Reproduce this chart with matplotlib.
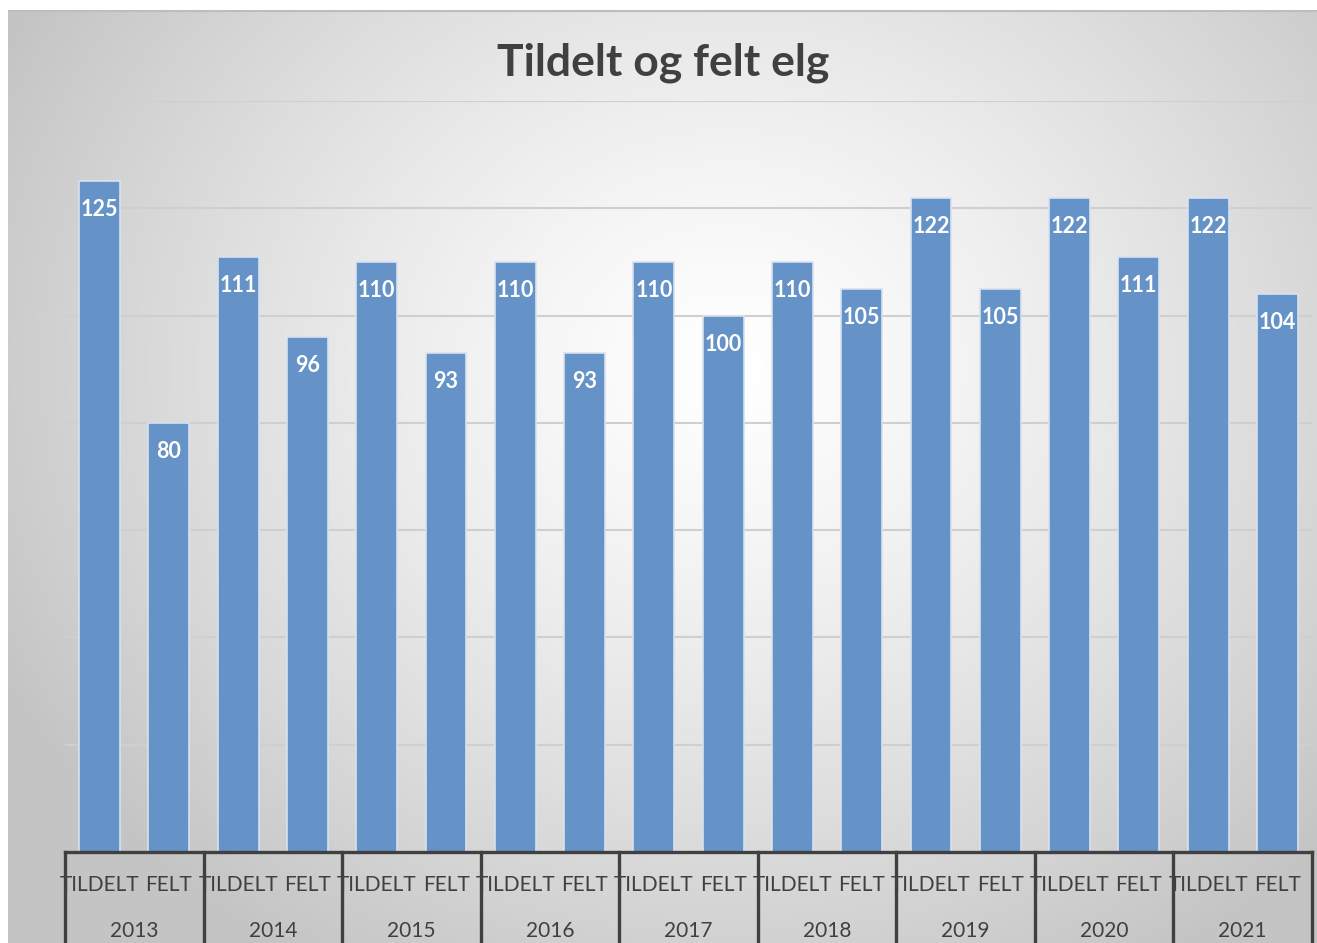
import numpy as np
import matplotlib
matplotlib.use("Agg")
import matplotlib.pyplot as plt
from matplotlib import transforms

plt.rcParams['font.family'] = ['Lato', 'DejaVu Sans']

years = ["2013", "2014", "2015", "2016", "2017", "2018", "2019", "2020", "2021"]
categories = ["TILDELT", "FELT"]
tildelt = [125, 111, 110, 110, 110, 110, 122, 122, 122]
felt = [80, 96, 93, 93, 100, 105, 105, 111, 104]
title = "Tildelt og felt elg"

W, H = 1317, 943
fig = plt.figure(figsize=(W / 100, H / 100), dpi=100)
fig.patch.set_facecolor("white")

# background panel with radial gradient
bg = fig.add_axes([8 / W, 0, 1 - 8 / W, (H - 10) / H])
bg.set_axis_off()
ny, nx = 400, 560
yy, xx = np.mgrid[0:ny, 0:nx]
cx, cy = nx * 0.55, ny * 0.38
r = np.sqrt(((xx - cx) / (nx * 0.62)) ** 2 + ((yy - cy) / (ny * 0.75)) ** 2)
r = np.clip(r, 0, 1)
val = 1.0 - (1.0 - 0.77) * r ** 1.3
img = np.dstack([val, val, val])
bg.imshow(img, aspect="auto", extent=[0, 1, 0, 1], origin="upper", interpolation="bilinear")
bg.set_xlim(0, 1)
bg.set_ylim(0, 1)
bg.axhline(1.0, color="#bdbdbd", lw=3)

ax_left, ax_right = 65 / W, 1312 / W
ax_bottom, ax_top = (H - 852) / H, (H - 101) / H
ax = fig.add_axes([ax_left, ax_bottom, ax_right - ax_left, ax_top - ax_bottom])
ax.patch.set_alpha(0)

values = []
labels = []
for t, f in zip(tildelt, felt):
    values += [t, f]
    labels += categories
x = np.arange(len(values))

ax.set_xlim(-0.5, len(values) - 0.5)
ax.set_ylim(0, 140)
ax.set_yticks(np.arange(20, 141, 20))
ax.yaxis.grid(True, color="#cfcfcf", lw=1.5)
ax.set_axisbelow(True)
ax.tick_params(left=False, bottom=False, labelleft=False, labelbottom=False)
for s in ax.spines.values():
    s.set_visible(False)

bars = ax.bar(x, values, width=0.59, color="#6592c7", edgecolor="#d8e2ef", linewidth=1.2, zorder=3)
for xi, v in zip(x, values):
    ax.annotate(str(v), (xi, v), xytext=(0, -20.5), textcoords="offset points",
                ha="center", va="center", color="white", fontsize=15.5, fontweight="bold", zorder=4)

ax.plot([-0.5, len(values) - 0.5], [0, 0], color="#404040", lw=2.4, clip_on=False, zorder=5,
        solid_capstyle="projecting")
trans = transforms.blended_transform_factory(ax.transData, ax.transAxes)
for b in np.arange(-0.5, len(values), 2):
    ax.plot([b, b], [0, -0.2], color="#404040", lw=2.4, transform=trans, clip_on=False, zorder=5)

for xi, lab in zip(x, labels):
    ax.text(xi, -0.0435, lab, transform=trans, ha="center", va="center",
            fontsize=15, color="#404040")
for i, yr in enumerate(years):
    ax.text(2 * i + 0.5, -0.105, yr, transform=trans, ha="center", va="center",
            fontsize=15, color="#404040")

fig.text(663 / W, 1 - 63 / H, title, ha="center", va="center", fontsize=32,
         fontweight="bold", color="#404040")

fig.savefig("out.png", dpi=100)
